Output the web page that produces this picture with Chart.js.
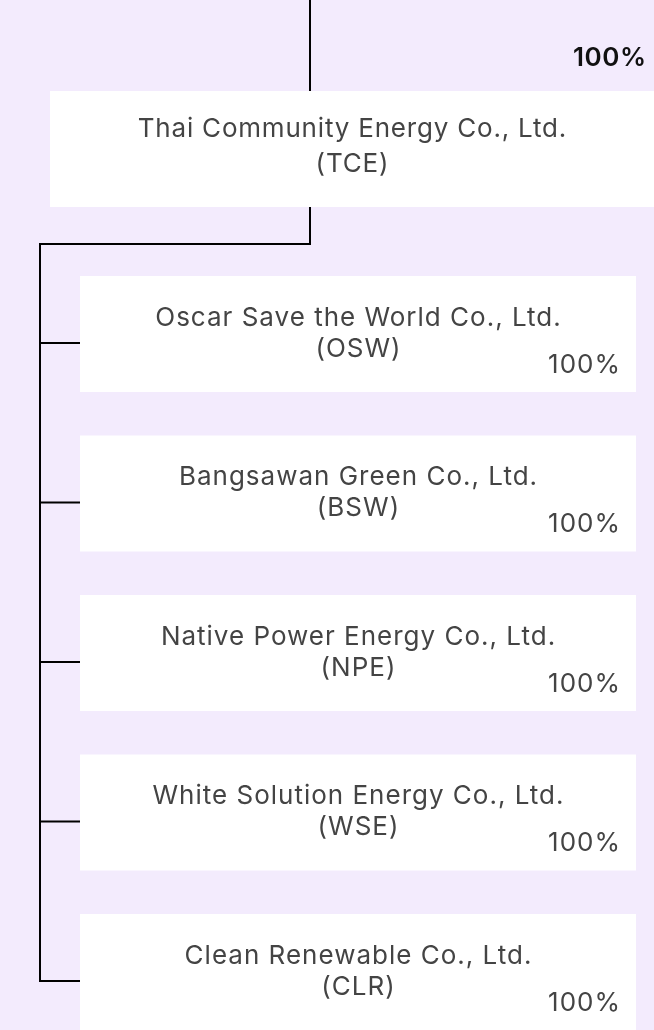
<!DOCTYPE html>
<html>
<head>
<meta charset="utf-8">
<script src="https://cdn.jsdelivr.net/npm/chart.js@4.4.1/dist/chart.umd.min.js"></script>
<style>
  html, body { margin: 0; padding: 0; background: #f3ebfd; }
  #wrap { width: 654px; height: 1030px; position: relative; }
</style>
</head>
<body>
<div id="wrap"><canvas id="orgChart"></canvas></div>
<script>
// data
const parentName = 'Thai Community Energy Co., Ltd.';
const parentCode = 'TCE';
const parentShare = 100;
const companies = [
    'Oscar Save the World Co., Ltd.',
    'Bangsawan Green Co., Ltd.',
    'Native Power Energy Co., Ltd.',
    'White Solution Energy Co., Ltd.',
    'Clean Renewable Co., Ltd.'
];
const codes = ['OSW', 'BSW', 'NPE', 'WSE', 'CLR'];
const shares = [100, 100, 100, 100, 100];

// layout (page units, same as the chart scales)
const W = 654, H = 1030;
const parentBox = { x1: 50, x2: 654, y1: 91, y2: 207 };
const stemX = 310, busY = 244, trunkX = 40;
const childX1 = 80, childX2 = 636, childTop0 = 276, childStep = 159.5, childH = 116;
const textFont = 'Inter, "Noto Sans", sans-serif';

function childTop(i) { return childTop0 + i * childStep; }

// connector segments, each a little line dataset
const segments = [];
segments.push([{ x: stemX, y: 0 }, { x: stemX, y: parentBox.y1 }]);
segments.push([{ x: stemX, y: parentBox.y2 }, { x: stemX, y: busY }]);
segments.push([{ x: trunkX - 1, y: busY }, { x: stemX + 1, y: busY }]);
const lastTick = childTop(companies.length - 1) + 66;
segments.push([{ x: trunkX, y: busY }, { x: trunkX, y: lastTick }]);
companies.forEach(function (c, i) {
    const y = childTop(i) + 67;
    segments.push([{ x: trunkX - 1, y: y }, { x: childX1, y: y }]);
});

// canvas letterSpacing shifts right-aligned text, so draw it from a measured left edge
function drawText(ctx, txt, x, y, align, spacing) {
    ctx.letterSpacing = spacing + 'px';
    const w = ctx.measureText(txt).width - spacing;
    ctx.textAlign = 'left';
    let left = x;
    if (align === 'center') left = x - w / 2;
    if (align === 'right') left = x - w;
    ctx.fillText(txt, left, y);
}

const boxPlugin = {
    id: 'orgBoxes',
    beforeDatasetsDraw(chart) {
        const ctx = chart.ctx;
        const sx = chart.scales.x, sy = chart.scales.y;
        function rect(b) {
            const x1 = sx.getPixelForValue(b.x1), x2 = sx.getPixelForValue(b.x2);
            const y1 = sy.getPixelForValue(b.y1), y2 = sy.getPixelForValue(b.y2);
            ctx.fillStyle = '#ffffff';
            ctx.fillRect(x1, y1, x2 - x1, y2 - y1);
        }
        ctx.save();
        rect(parentBox);
        companies.forEach(function (c, i) {
            rect({ x1: childX1, x2: childX2, y1: childTop(i), y2: childTop(i) + childH });
        });
        ctx.restore();
    },
    afterDatasetsDraw(chart) {
        const ctx = chart.ctx;
        const sx = chart.scales.x, sy = chart.scales.y;
        ctx.save();
        ctx.textBaseline = 'middle';

        // parent share above the parent box
        ctx.fillStyle = '#111111';
        ctx.font = '600 26px ' + textFont;
        drawText(ctx, parentShare + '%', sx.getPixelForValue(646), sy.getPixelForValue(58), 'right', 0.5);

        // parent name
        ctx.fillStyle = '#444444';
        ctx.font = '400 26px ' + textFont;
        const pcx = sx.getPixelForValue((parentBox.x1 + parentBox.x2) / 2);
        drawText(ctx, parentName, pcx, sy.getPixelForValue(129), 'center', 0.8);
        drawText(ctx, '(' + parentCode + ')', pcx, sy.getPixelForValue(164), 'center', 0.8);

        // subsidiaries
        const ccx = sx.getPixelForValue((childX1 + childX2) / 2);
        companies.forEach(function (name, i) {
            const t = childTop(i);
            ctx.font = '400 26px ' + textFont;
            drawText(ctx, name, ccx, sy.getPixelForValue(t + 42), 'center', 1);
            drawText(ctx, '(' + codes[i] + ')', ccx, sy.getPixelForValue(t + 73), 'center', 1);
            ctx.font = '400 26px ' + textFont;
            drawText(ctx, shares[i] + '%', sx.getPixelForValue(620), sy.getPixelForValue(t + 89), 'right', 1);
        });
        ctx.restore();
    }
};

const ctx = document.getElementById('orgChart').getContext('2d');
new Chart(ctx, {
    type: 'scatter',
    data: {
        datasets: segments.map(function (s) {
            return {
                data: s,
                showLine: true,
                borderColor: '#000000',
                borderWidth: 2,
                pointRadius: 0,
                pointHoverRadius: 0,
                fill: false
            };
        })
    },
    options: {
        responsive: true,
        maintainAspectRatio: false,
        animation: false,
        events: [],
        layout: { padding: 0 },
        plugins: {
            legend: { display: false },
            tooltip: { enabled: false }
        },
        scales: {
            x: { type: 'linear', min: 0, max: W, display: false },
            y: { type: 'linear', min: 0, max: H, reverse: true, display: false }
        }
    },
    plugins: [boxPlugin]
});
</script>
</body>
</html>
